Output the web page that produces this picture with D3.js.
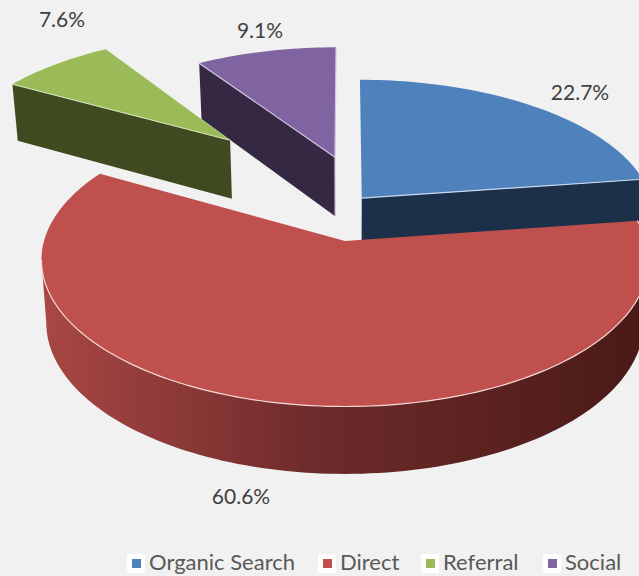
<!DOCTYPE html>
<html>
<head>
<meta charset="utf-8">
<script src="https://cdn.jsdelivr.net/npm/d3@7"></script>
<style>
  html, body { margin: 0; padding: 0; background: #f1f1f1; }
  svg { display: block; }
  text { font-family: Lato, "Open Sans", sans-serif; }
</style>
</head>
<body>
<div id="chart"></div>
<script>
const categories = ["Organic Search", "Direct", "Referral", "Social"];
const shares = [22.7, 60.6, 7.6, 9.1];
const shareLabels = ["22.7%", "60.6%", "7.6%", "9.1%"];
const topColors = ["#4f81bd", "#c0504d", "#9bbb59", "#8064a2"];
const wallColors = ["#1c3049", "url(#redWall)", "#3f4a20", "#352842"];
const edgeColors = ["#c9d9ee", "#f5d9d5", "#d5e2b8", "#d3c6e2"];

const width = 639, height = 576;
const cx = 345, cy = 241;      // centre of the pie, seen on the top face
const rx = 301, ry = 144;      // radii before perspective
const persp = 0.13;            // how much the far side shrinks
const wall = 62;               // thickness of the pie

// how far each slice is pulled out, in pie radii
const pull = d3.scaleOrdinal().domain(categories)
    .range([[0.058, 0.31], [0, 0], [-0.42, 0.77], [-0.036, 0.63]]);

const labelX = d3.scaleOrdinal().domain(categories).range([580, 241, 62, 260]);
const labelY = d3.scaleOrdinal().domain(categories).range([100, 504, 27, 38]);
const legendX = d3.scaleOrdinal().domain(categories).range([127, 318, 421, 543]);

const svg = d3.select("#chart").append("svg")
    .attr("width", width)
    .attr("height", height);

const grad = svg.append("defs").append("linearGradient")
    .attr("id", "redWall")
    .attr("gradientUnits", "userSpaceOnUse")
    .attr("x1", 45).attr("x2", 640).attr("y1", 0).attr("y2", 0);
grad.append("stop").attr("offset", "0%").attr("stop-color", "#a84744");
grad.append("stop").attr("offset", "45%").attr("stop-color", "#6e2b2b");
grad.append("stop").attr("offset", "100%").attr("stop-color", "#4a1a17");

// plane point to screen, low = true gives the underside of the pie
function project(px, pz, low) {
    const depth = 1 + persp * pz;
    const x = cx + rx * px / depth;
    const y = cy - ry * pz / depth;
    if (!low) return [x, y];
    return [cx + (x - cx) * 0.984, y + wall / Math.pow(depth, 0.6)];
}

function rimPoint(a, off, low) {
    return project(off[0] + Math.sin(a), off[1] + Math.cos(a), low);
}

const line = d3.line();
const slices = d3.pie().sort(null)(shares).map((d, i) => ({
    name: categories[i],
    start: d.startAngle,
    end: d.endAngle,
    off: pull(categories[i]),
    top: topColors[i],
    side: wallColors[i],
    edge: edgeColors[i]
}));

function rim(s, low, stop) {
    const end = stop === undefined ? s.end : stop;
    const n = Math.ceil((end - s.start) * 40);
    return d3.range(n + 1).map(k => rimPoint(s.start + (end - s.start) * k / n, s.off, low));
}

function face(s) {
    return line([project(s.off[0], s.off[1])].concat(rim(s))) + "Z";
}

// cut face running from the apex to the rim at angle a
function cutFace(s, a) {
    return line([
        project(s.off[0], s.off[1]),
        rimPoint(a, s.off),
        rimPoint(a, s.off, true),
        project(s.off[0], s.off[1], true)
    ]) + "Z";
}

// where the rim turns back on the left, the wall stops there
const leftTurn = Math.PI + Math.acos(persp);

// back slices first, the big red one goes on top of the blue wall
const order = [0, 3, 2, 1].map(i => slices[i]);

order.forEach(s => {
    const g = svg.append("g").attr("class", "slice");
    if (s.name === "Direct") {
        g.append("path")
            .attr("d", line(rim(s, false, leftTurn).concat(rim(s, true, leftTurn).reverse())) + "Z")
            .attr("fill", s.side);
    } else if (s.name === "Organic Search") {
        g.append("path").attr("d", cutFace(s, s.end)).attr("fill", s.side);
    } else {
        g.append("path").attr("d", cutFace(s, s.start)).attr("fill", s.side);
    }
    g.append("path").attr("d", face(s)).attr("fill", s.top);

    // thin light edge where top and wall meet
    let edge;
    if (s.name === "Direct") edge = rim(s, false, leftTurn);
    else if (s.name === "Organic Search") edge = [project(s.off[0], s.off[1]), rimPoint(s.end, s.off)];
    else edge = [project(s.off[0], s.off[1]), rimPoint(s.start, s.off)];
    g.append("path")
        .attr("d", line(edge))
        .attr("fill", "none")
        .attr("stroke", s.edge)
        .attr("stroke-width", 1.2);

    if (s.name === "Social") {
        g.append("path")
            .attr("d", line([rimPoint(s.end, s.off), project(s.off[0], s.off[1]), project(s.off[0], s.off[1], true)]))
            .attr("fill", "none")
            .attr("stroke", s.edge)
            .attr("stroke-width", 1.2);
    }
});

// data labels
svg.append("g").selectAll("text")
    .data(categories)
    .enter()
    .append("text")
    .attr("x", d => labelX(d))
    .attr("y", d => labelY(d))
    .attr("text-anchor", "middle")
    .attr("font-size", 21)
    .attr("fill", "#404040")
    .text((d, i) => shareLabels[i]);

// legend
const legend = svg.append("g").selectAll("g")
    .data(categories)
    .enter()
    .append("g")
    .attr("transform", d => `translate(${legendX(d)},554)`);

legend.append("rect")
    .attr("width", 18)
    .attr("height", 19)
    .attr("rx", 2)
    .attr("fill", "#fff");

legend.append("rect")
    .attr("x", 5)
    .attr("y", 5)
    .attr("width", 9)
    .attr("height", 9)
    .attr("fill", (d, i) => topColors[i]);

legend.append("text")
    .attr("x", 22)
    .attr("y", 16)
    .attr("font-size", 22)
    .attr("fill", "#595959")
    .text(d => d);
</script>
</body>
</html>
